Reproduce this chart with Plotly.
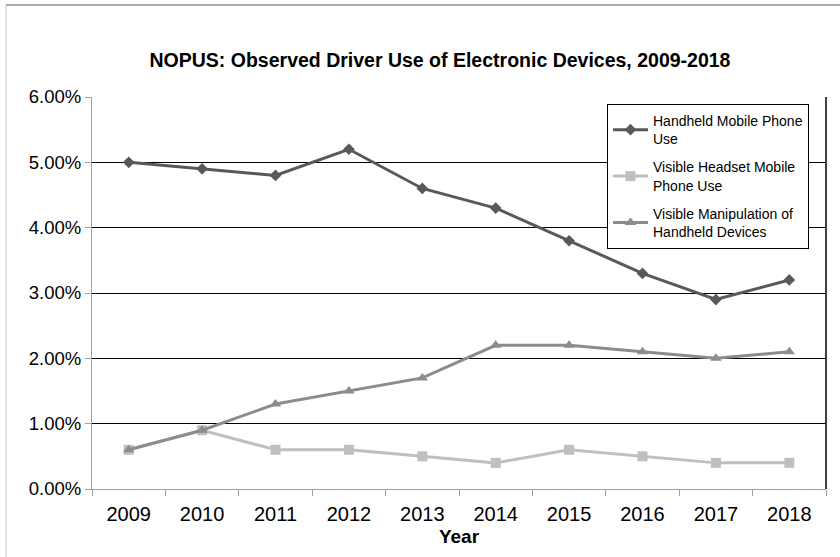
import plotly.graph_objects as go

years = ["2009", "2010", "2011", "2012", "2013", "2014", "2015", "2016", "2017", "2018"]
handheld = [5.0, 4.9, 4.8, 5.2, 4.6, 4.3, 3.8, 3.3, 2.9, 3.2]
headset = [0.6, 0.9, 0.6, 0.6, 0.5, 0.4, 0.6, 0.5, 0.4, 0.4]
manipulation = [0.6, 0.9, 1.3, 1.5, 1.7, 2.2, 2.2, 2.1, 2.0, 2.1]
y_ticks = [0, 1, 2, 3, 4, 5, 6]
y_ticklabels = ["0.00%", "1.00%", "2.00%", "3.00%", "4.00%", "5.00%", "6.00%"]

FONT = "Liberation Sans, Arial, sans-serif"

fig = go.Figure()
fig.add_trace(go.Scatter(x=years, y=handheld, mode="lines+markers",
                         name="Handheld Mobile Phone<br>Use", legendgroup="a",
                         line=dict(color="#595959", width=3),
                         marker=dict(symbol="diamond", size=9, color="#595959")))
fig.add_trace(go.Scatter(x=years, y=headset, mode="lines+markers",
                         name="Visible Headset Mobile<br>Phone Use", legendgroup="b",
                         line=dict(color="#bfbfbf", width=3),
                         marker=dict(symbol="square", size=10, color="#bfbfbf")))
fig.add_trace(go.Scatter(x=years, y=manipulation, mode="lines+markers",
                         name="Visible Manipulation of<br>Handheld Devices", legendgroup="c",
                         line=dict(color="#8c8c8c", width=3),
                         marker=dict(symbol="triangle-up", size=10, color="#8c8c8c")))

L, R, T, B = 92, 14, 97, 68
W, H = 840, 557
pw = W - L - R
ph = H - T - B

def px(x):
    return (x - L) / pw

def py(y):
    return (H - B - y) / ph

fig.update_layout(
    width=W, height=H,
    margin=dict(l=L, r=R, t=T, b=B),
    paper_bgcolor="white", plot_bgcolor="white",
    font=dict(family=FONT, color="black"),
    title=dict(text="<b>NOPUS: Observed Driver Use of Electronic Devices, 2009-2018</b>",
               x=440 / W, xanchor="center", y=1 - 60 / H, yanchor="middle",
               font=dict(size=19.5, family=FONT, color="black")),
    showlegend=True,
    legend=dict(x=px(607), y=py(104), xanchor="left", yanchor="top",
                bordercolor="black", borderwidth=1, bgcolor="white",
                font=dict(size=14, family=FONT, color="black"),
                tracegroupgap=7, itemwidth=35),
    xaxis=dict(type="category", showgrid=False, showline=True, linecolor="#a0a0a0",
               linewidth=1, ticks="outside", ticklen=6, tickcolor="#a0a0a0",
               tickson="boundaries", tickfont=dict(size=20, family=FONT),
               ticklabelstandoff=7,
               title=dict(text="<b>Year</b>", font=dict(size=19, family=FONT), standoff=5),
               range=[-0.5, 9.5], fixedrange=True),
    yaxis=dict(range=[0, 6], tickvals=y_ticks, ticktext=y_ticklabels,
               showgrid=True, gridcolor="black", gridwidth=1,
               showline=True, linecolor="#a0a0a0", linewidth=1,
               ticks="outside", ticklen=6, tickcolor="#a0a0a0",
               tickfont=dict(size=18.5, family=FONT), zeroline=False, fixedrange=True),
    shapes=[
        dict(type="line", xref="paper", yref="paper", x0=1, x1=1, y0=0, y1=1,
             line=dict(color="black", width=1.5)),
        dict(type="line", xref="paper", yref="paper", x0=px(6), x1=px(840), y0=py(5), y1=py(5),
             line=dict(color="#909090", width=1.5)),
        dict(type="line", xref="paper", yref="paper", x0=px(6), x1=px(6), y0=py(5), y1=py(557),
             line=dict(color="#c8c8c8", width=1)),
    ],
)

fig.write_html("out.html")
